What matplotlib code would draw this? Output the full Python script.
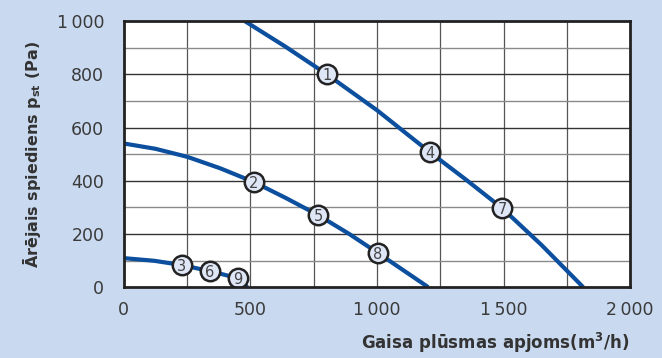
import matplotlib
matplotlib.use('Agg')
import matplotlib.pyplot as plt
import numpy as np

plt.rcParams['font.family'] = ['DejaVu Sans']

# fan curves: airflow (m3/h) vs external static pressure (Pa)
flow_a = [478, 640, 802, 1000, 1209, 1350, 1494, 1650, 1814]
pst_a = [1000, 903, 800, 665, 507, 405, 297, 158, 0]
flow_b = [0, 125, 250, 380, 514, 640, 767, 890, 1004, 1100, 1202]
pst_b = [540, 520, 490, 447, 395, 335, 271, 200, 128, 66, 0]
flow_c = [0, 120, 229, 340, 450, 488]
pst_c = [109, 99, 83, 60, 34, 0]

# numbered operating points
mark_no = ['1', '4', '7', '2', '5', '8', '3', '6', '9']
mark_x = [802, 1209, 1494, 514, 767, 1004, 229, 340, 450]
mark_y = [800, 507, 297, 395, 271, 128, 83, 60, 34]

xticks = [0, 500, 1000, 1500, 2000]
xticklabels = ['0', '500', '1\u2009000', '1\u2009500', '2\u2009000']
yticks = [0, 200, 400, 600, 800, 1000]
yticklabels = ['0', '200', '400', '600', '800', '1\u2009000']

bg = '#c9d9ef'
blue = '#0b4f9e'

fig = plt.figure(figsize=(6.62, 3.58), dpi=100, facecolor=bg)
ax = fig.add_axes([0.187, 0.198, 0.765, 0.743])
ax.set_facecolor('white')

# grid
for v in np.arange(250, 2000, 250):
    ax.axvline(v, color='#555555', lw=0.9, zorder=1)
for h in np.arange(100, 1000, 100):
    ax.axhline(h, color='#333333' if h % 200 == 0 else '#8a8a8a', lw=1.0, zorder=1)

for fx, fy in [(flow_a, pst_a), (flow_b, pst_b), (flow_c, pst_c)]:
    ax.plot(fx, fy, color=blue, lw=3.0, solid_capstyle='butt', zorder=3)

for n, mx, my in zip(mark_no, mark_x, mark_y):
    ax.plot(mx, my, 'o', ms=14, mfc='#dfe6f6', mec='#222222', mew=1.8, zorder=4)
    ax.text(mx, my - 4, n, ha='center', va='center', fontsize=10.5, color='#444444', zorder=5)

ax.set_xlim(0, 2000)
ax.set_ylim(0, 1000)
ax.set_xticks(xticks)
ax.set_xticklabels(xticklabels)
ax.set_yticks(yticks)
ax.set_yticklabels(yticklabels)
ax.tick_params(length=0, labelsize=12.5, labelcolor='#3a3a3a', pad=10)
ax.tick_params(axis='y', pad=14)
for s in ax.spines.values():
    s.set_linewidth(2)
    s.set_color('#222222')
    s.set_zorder(6)

ax.set_ylabel('Ārējais spiediens p$_{\\mathregular{st}}$ (Pa)', fontsize=11.5,
              fontweight='bold', color='#333333', labelpad=10)
fig.text(0.748, 0.025, 'Gaisa plūsmas apjoms(m$^{\\mathregular{3}}$/h)', ha='center',
         fontsize=12, fontweight='bold', color='#333333')

plt.savefig('out.png', dpi=100, facecolor=bg)
